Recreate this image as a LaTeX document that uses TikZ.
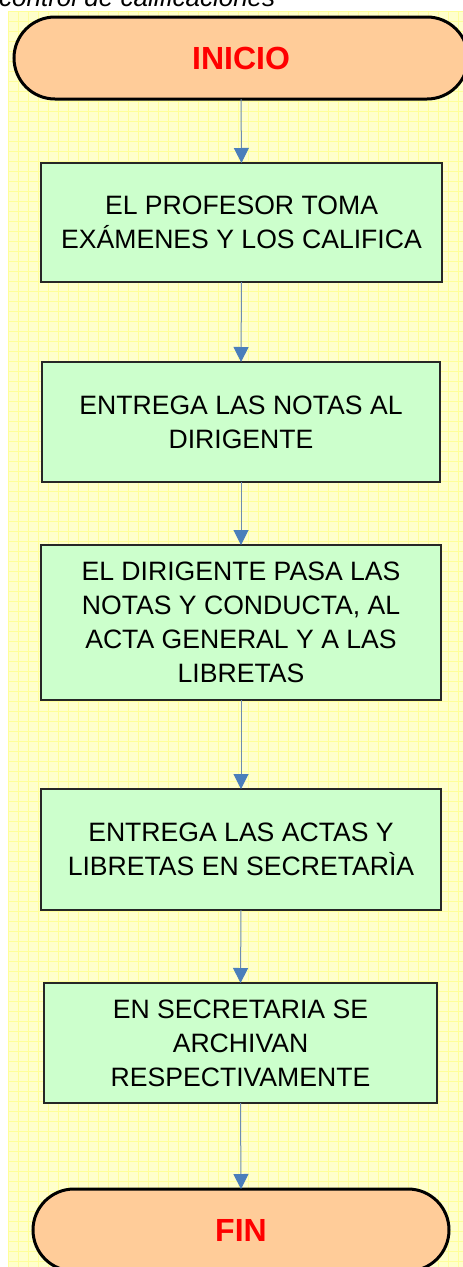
\documentclass[tikz,border=0pt]{standalone}
\usepackage{fontspec}
\setmainfont{Liberation Sans}
\usetikzlibrary{arrows.meta}
\definecolor{bgyellow}{HTML}{FFFFCC}
\definecolor{gridyellow}{HTML}{FFFF99}
\definecolor{boxgreen}{HTML}{CCFFCC}
\definecolor{termorange}{HTML}{FFCC99}
\definecolor{arrowblue}{RGB}{74,126,187}
\definecolor{linegray}{RGB}{110,140,175}
\tikzset{
  stepbox/.style={draw=black!85, line width=1.2pt, fill=boxgreen, outer sep=0pt,
    align=center, font=\fontsize{26.6}{34}\selectfont, inner sep=0pt},
  term/.style={draw=black, line width=3pt, fill=termorange, outer sep=0pt,
    rounded corners=41pt, minimum height=82pt, text=red,
    font=\bfseries\fontsize{32}{36}\selectfont, inner sep=0pt},
  arr/.style={draw=linegray, line width=1pt,
    -{Triangle[width=15pt,length=15pt,fill=arrowblue,color=arrowblue]}},
}
\begin{document}
\begin{tikzpicture}[x=1pt,y=-1pt]
\useasboundingbox (0,0) rectangle (463,1267);
\clip (0,0) rectangle (463,1267);
\fill[white] (0,0) rectangle (463,1267);
% background with grid
\fill[bgyellow] (8,11) rectangle (463,1267);
\begin{scope}
\clip (8,11) rectangle (463,1267);
\foreach \i in {0,...,46} {\draw[gridyellow, line width=0.8pt] (8+10*\i,11) -- (8+10*\i,1267);}
\foreach \j in {0,...,126} {\draw[gridyellow, line width=0.8pt] (8,11+10*\j) -- (463,11+10*\j);}
\end{scope}
% title (cut at top)
\node[anchor=base west, inner sep=0pt, font=\itshape\fontsize{26}{30}\selectfont] (title) at (-1,6) {control de calificaciones};
% terminals
\node[term, minimum width=454pt] (inicio) at (241,58) {INICIO};
\node[term, minimum width=416pt] (fin) at (241,1230) {FIN};
% process boxes
\node[stepbox, minimum width=401pt, minimum height=119pt] (b1) at (241.5,222.5) {EL PROFESOR TOMA\\EXÁMENES Y LOS CALIFICA};
\node[stepbox, minimum width=398pt, minimum height=120pt] (b2) at (241,422) {ENTREGA LAS NOTAS AL\\DIRIGENTE};
\node[stepbox, minimum width=400pt, minimum height=155pt] (b3) at (241,622.5) {EL DIRIGENTE PASA LAS\\NOTAS Y CONDUCTA, AL\\ACTA GENERAL Y A LAS\\LIBRETAS};
\node[stepbox, minimum width=400pt, minimum height=121pt] (b4) at (241,849.5) {ENTREGA LAS ACTAS Y\\LIBRETAS EN SECRETARÌA};
\node[stepbox, minimum width=393pt, minimum height=120pt] (b5) at (240.5,1043) {EN SECRETARIA SE\\ARCHIVAN\\RESPECTIVAMENTE};
% connectors
\draw[arr] (inicio.south) -- (b1.north);
\draw[arr] (b1.south) -- (b2.north);
\draw[arr] (b2.south) -- (b3.north);
\draw[arr] (b3.south) -- (b4.north);
\draw[arr] (b4.south) -- (b5.north);
\draw[arr] (b5.south) -- (fin.north);
\end{tikzpicture}
\end{document}
